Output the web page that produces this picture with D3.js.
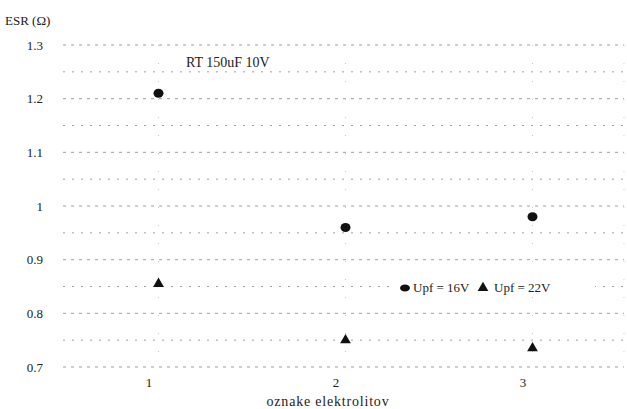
<!DOCTYPE html>
<html><head><meta charset="utf-8">
<script src="https://cdn.jsdelivr.net/npm/d3@7"></script>
<style>
body{margin:0;background:#fff;}
</style></head>
<body><svg id="c" width="627" height="409"></svg>
<script>
const categories = [1, 2, 3];
const esr16 = [1.21, 0.96, 0.98];
const esr22 = [0.855, 0.75, 0.735];
const yTickValues = [0.7, 0.8, 0.9, 1.0, 1.1, 1.2, 1.3];
const yTickLabels = ["0.7", "0.8", "0.9", "1", "1.1", "1.2", "1.3"];
const gridValues = [0.7, 0.75, 0.8, 0.85, 0.9, 0.95, 1.0, 1.05, 1.1, 1.15, 1.2, 1.25, 1.3];
const seriesNames = ["Upf = 16V", "Upf = 22V"];
const title = "RT  150uF 10V";
const yTitle = "ESR  (\u03A9)";
const xTitle = "oznake  elektrolitov";

const FONT = "'Liberation Serif', 'Times New Roman', 'DejaVu Serif', serif";
const svg = d3.select("#c");
const x = d3.scaleLinear().domain([0.5, 3.5]).range([65, 626]);
const y = d3.scaleLinear().domain([0.7, 1.3]).range([367, 45]);

svg.append("g").selectAll("line").data(gridValues).join("line")
  .attr("x1", 63).attr("x2", 624)
  .attr("y1", d => y(d)).attr("y2", d => y(d))
  .attr("stroke", "#a0a0a0").attr("stroke-width", 1)
  .attr("stroke-dasharray", (d, i) => i % 2 === 0 ? "3,5" : "2,7");

svg.append("g").selectAll("line").data(categories.concat([3.5])).join("line")
  .attr("x1", d => x(d) - (d === 3.5 ? 2 : 0)).attr("x2", d => x(d) - (d === 3.5 ? 2 : 0))
  .attr("y1", y(1.3)).attr("y2", y(0.7))
  .attr("stroke", "#c8c8c8").attr("stroke-width", 1)
  .attr("stroke-dasharray", "1,17");

const yAxis = d3.axisLeft(y).tickValues(yTickValues)
  .tickFormat((d, i) => yTickLabels[i]).tickSize(0).tickPadding(0);
const gy = svg.append("g").attr("transform", "translate(43,0)").call(yAxis)
  .attr("font-family", FONT).attr("font-size", 13);
gy.select(".domain").remove();
gy.selectAll("text").attr("fill", "#222");

const xAxis = d3.axisBottom(x).tickValues(categories).tickFormat(d3.format("d")).tickSize(0).tickPadding(0);
const gx = svg.append("g").attr("transform", "translate(-10,378)").call(xAxis)
  .attr("font-family", FONT).attr("font-size", 13);
gx.select(".domain").remove();
gx.selectAll("text").attr("fill", "#222");

const txt = (xx, yy, s, size, anchor) => svg.append("text").attr("x", xx).attr("y", yy)
  .attr("font-family", FONT).attr("font-size", size).attr("fill", "#222")
  .attr("text-anchor", anchor || "start").text(s);

txt(5, 25, yTitle, 13);
txt(186, 67, title, 14);
txt(328, 406, xTitle, 14, "middle").attr("letter-spacing", 0.8);

svg.append("g").selectAll("ellipse").data(categories).join("ellipse")
  .attr("cx", d => x(d)).attr("cy", (d, i) => y(esr16[i]))
  .attr("rx", 5).attr("ry", 4.5).attr("fill", "#111");

const tri = d3.symbol().type(d3.symbolTriangle).size(50);
svg.append("g").selectAll("path").data(categories).join("path")
  .attr("d", tri)
  .attr("transform", (d, i) => `translate(${x(d)},${y(esr22[i])})`)
  .attr("fill", "#111");

const lg = svg.append("g");
lg.append("rect").attr("x", 395).attr("y", 279).attr("width", 200).attr("height", 18).attr("fill", "#fff");
lg.append("ellipse").attr("cx", 405).attr("cy", 288).attr("rx", 5).attr("ry", 3.5).attr("fill", "#111");
lg.append("path").attr("d", tri).attr("transform", "translate(483,288)").attr("fill", "#111");
txt(413, 292, seriesNames[0], 13);
txt(494, 292, seriesNames[1], 13);
</script></body></html>
